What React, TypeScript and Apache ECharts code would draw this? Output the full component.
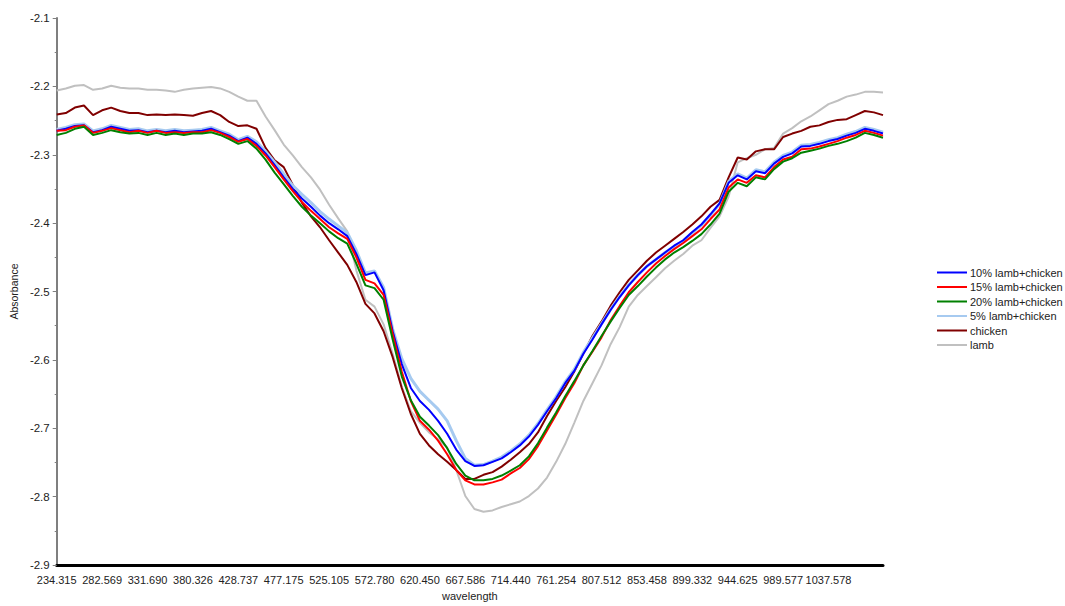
import React, { useEffect, useRef } from "react";
import * as echarts from "echarts";

const tickLabels = [
  "234.315", "282.569", "331.690", "380.326", "428.737", "477.175", "525.105", "572.780", "620.450",
  "667.586", "714.440", "761.254", "807.512", "853.458", "899.332", "944.625", "989.577", "1037.578",
];

const lamb = [
  -2.206, -2.203, -2.199, -2.198, -2.205, -2.203, -2.199, -2.202, -2.203, -2.203,
  -2.205, -2.205, -2.206, -2.208, -2.205, -2.203, -2.202, -2.201, -2.203, -2.208,
  -2.215, -2.221, -2.221, -2.244, -2.264, -2.285, -2.301, -2.318, -2.333, -2.351,
  -2.373, -2.393, -2.412, -2.469, -2.512, -2.522, -2.548, -2.591, -2.639, -2.675,
  -2.692, -2.706, -2.716, -2.728, -2.761, -2.799, -2.818, -2.822, -2.820, -2.815,
  -2.811, -2.807, -2.799, -2.788, -2.772, -2.749, -2.723, -2.692, -2.660, -2.634,
  -2.608, -2.577, -2.552, -2.522, -2.505, -2.492, -2.479, -2.466, -2.455, -2.445,
  -2.433, -2.425, -2.407, -2.390, -2.361, -2.311, -2.305, -2.300, -2.292, -2.290,
  -2.269, -2.261, -2.251, -2.244, -2.235, -2.226, -2.221, -2.215, -2.212, -2.208,
  -2.208, -2.209,
];

const chicken = [
  -2.241, -2.239, -2.231, -2.228, -2.242, -2.235, -2.231, -2.236, -2.239, -2.239,
  -2.242, -2.241, -2.242, -2.241, -2.242, -2.243, -2.239, -2.236, -2.242, -2.252,
  -2.258, -2.257, -2.262, -2.290, -2.308, -2.318, -2.344, -2.370, -2.390, -2.406,
  -2.425, -2.443, -2.461, -2.486, -2.518, -2.532, -2.558, -2.596, -2.641, -2.679,
  -2.708, -2.725, -2.738, -2.749, -2.761, -2.774, -2.774, -2.768, -2.764, -2.756,
  -2.746, -2.735, -2.723, -2.706, -2.682, -2.660, -2.640, -2.617, -2.591, -2.565,
  -2.544, -2.521, -2.501, -2.483, -2.469, -2.455, -2.443, -2.433, -2.423, -2.413,
  -2.402, -2.390, -2.376, -2.366, -2.333, -2.304, -2.307, -2.295, -2.292, -2.292,
  -2.274, -2.269, -2.265, -2.259, -2.257, -2.252, -2.249, -2.248, -2.242, -2.236,
  -2.238, -2.242,
];

const mix10 = [
  -2.265, -2.262, -2.258, -2.257, -2.267, -2.264, -2.259, -2.262, -2.265, -2.264,
  -2.267, -2.265, -2.267, -2.265, -2.267, -2.266, -2.265, -2.262, -2.267, -2.272,
  -2.280, -2.275, -2.284, -2.298, -2.315, -2.333, -2.350, -2.364, -2.376, -2.389,
  -2.400, -2.409, -2.419, -2.445, -2.476, -2.472, -2.498, -2.558, -2.606, -2.641,
  -2.660, -2.673, -2.689, -2.708, -2.731, -2.748, -2.755, -2.754, -2.749, -2.744,
  -2.735, -2.725, -2.712, -2.695, -2.675, -2.656, -2.634, -2.616, -2.591, -2.570,
  -2.548, -2.527, -2.508, -2.491, -2.476, -2.463, -2.453, -2.443, -2.433, -2.425,
  -2.413, -2.402, -2.387, -2.371, -2.341, -2.330, -2.336, -2.324, -2.327, -2.313,
  -2.303, -2.298, -2.288, -2.287, -2.284, -2.280, -2.277, -2.272, -2.268, -2.262,
  -2.265, -2.269,
];

const mix15 = [
  -2.265, -2.264, -2.259, -2.257, -2.268, -2.265, -2.261, -2.264, -2.267, -2.265,
  -2.268, -2.265, -2.268, -2.267, -2.268, -2.267, -2.267, -2.264, -2.268, -2.274,
  -2.281, -2.277, -2.287, -2.301, -2.318, -2.336, -2.353, -2.369, -2.382, -2.394,
  -2.406, -2.415, -2.423, -2.450, -2.483, -2.488, -2.505, -2.562, -2.617, -2.660,
  -2.689, -2.702, -2.718, -2.738, -2.761, -2.776, -2.782, -2.782, -2.779, -2.775,
  -2.766, -2.758, -2.745, -2.726, -2.703, -2.680, -2.656, -2.634, -2.608, -2.588,
  -2.567, -2.542, -2.521, -2.501, -2.486, -2.472, -2.459, -2.448, -2.438, -2.429,
  -2.419, -2.409, -2.394, -2.380, -2.348, -2.336, -2.341, -2.330, -2.333, -2.318,
  -2.307, -2.303, -2.292, -2.291, -2.288, -2.284, -2.280, -2.275, -2.271, -2.265,
  -2.268, -2.272,
];

const mix20 = [
  -2.271, -2.268, -2.262, -2.259, -2.271, -2.268, -2.264, -2.267, -2.269, -2.268,
  -2.271, -2.268, -2.271, -2.269, -2.271, -2.269, -2.269, -2.267, -2.271, -2.277,
  -2.284, -2.280, -2.291, -2.307, -2.326, -2.343, -2.360, -2.376, -2.389, -2.400,
  -2.412, -2.422, -2.430, -2.459, -2.491, -2.495, -2.512, -2.570, -2.624, -2.659,
  -2.683, -2.696, -2.710, -2.729, -2.752, -2.769, -2.776, -2.776, -2.774, -2.769,
  -2.762, -2.754, -2.741, -2.722, -2.699, -2.677, -2.653, -2.631, -2.608, -2.587,
  -2.565, -2.544, -2.524, -2.505, -2.492, -2.478, -2.465, -2.453, -2.443, -2.435,
  -2.426, -2.416, -2.402, -2.386, -2.354, -2.341, -2.346, -2.333, -2.336, -2.321,
  -2.310, -2.305, -2.297, -2.294, -2.291, -2.287, -2.284, -2.280, -2.275, -2.268,
  -2.271, -2.275,
];

const mix5 = [
  -2.263, -2.260, -2.256, -2.255, -2.265, -2.262, -2.257, -2.260, -2.263, -2.262,
  -2.265, -2.263, -2.265, -2.263, -2.265, -2.264, -2.263, -2.260, -2.265, -2.270,
  -2.278, -2.273, -2.281, -2.295, -2.311, -2.328, -2.345, -2.358, -2.370, -2.383,
  -2.394, -2.404, -2.414, -2.440, -2.473, -2.470, -2.494, -2.555, -2.598, -2.627,
  -2.646, -2.659, -2.672, -2.689, -2.718, -2.744, -2.754, -2.753, -2.748, -2.742,
  -2.733, -2.723, -2.710, -2.693, -2.673, -2.654, -2.632, -2.614, -2.589, -2.568,
  -2.547, -2.526, -2.507, -2.490, -2.476, -2.463, -2.453, -2.443, -2.434, -2.426,
  -2.414, -2.403, -2.388, -2.372, -2.339, -2.328, -2.334, -2.322, -2.325, -2.311,
  -2.301, -2.296, -2.286, -2.285, -2.282, -2.278, -2.275, -2.270, -2.266, -2.260,
  -2.263, -2.267,
];

const legendNames = [
  "10% lamb+chicken",
  "15% lamb+chicken",
  "20% lamb+chicken",
  "5% lamb+chicken",
  "chicken",
  "lamb",
];

const FONT = "'Liberation Sans', Arial, sans-serif";

function toPoints(arr: number[]) {
  return arr.map((v, i) => [i, v]);
}

export default function App() {
  const ref = useRef<HTMLDivElement>(null);
  useEffect(() => {
    if (!ref.current) return;
    const chart = echarts.init(ref.current, undefined, { renderer: "svg" });
    const mk = (name: string, data: number[], color: string, width: number) => ({
      name,
      type: "line",
      data: toPoints(data),
      symbol: "none",
      lineStyle: { color, width },
      itemStyle: { color },
    });
    chart.setOption({
      animation: false,
      backgroundColor: "#ffffff",
      textStyle: { fontFamily: FONT },
      grid: { left: 52, right: 182, top: 18, bottom: 31, containLabel: false },
      legend: {
        data: legendNames,
        orient: "vertical",
        left: 932,
        top: 262,
        itemWidth: 30,
        itemHeight: 10,
        itemGap: 3.5,
        icon: "path://M0,4 L30,4 L30,6 L0,6 Z",
        textStyle: { fontSize: 11, color: "#222", fontFamily: FONT, padding: [0, 0, 0, -2] },
      },
      xAxis: {
        type: "value",
        min: 0,
        max: 91,
        interval: 5,
        name: "wavelength",
        nameLocation: "middle",
        nameGap: 23,
        nameTextStyle: { fontSize: 11, color: "#222" },
        axisLine: { show: true, lineStyle: { color: "#000", width: 3 } },
        axisTick: { show: false },
        splitLine: { show: false },
        axisLabel: {
          fontSize: 11,
          color: "#222",
          margin: 9,
          showMaxLabel: false,
          formatter: (v: number) => {
            const k = Math.round(v / 5);
            return tickLabels[k] ?? "";
          },
        },
      },
      yAxis: {
        type: "value",
        min: -2.9,
        max: -2.1,
        interval: 0.1,
        name: "Absorbance",
        nameLocation: "middle",
        nameGap: 33,
        nameTextStyle: { fontSize: 10.5, color: "#222" },
        axisLine: { show: true, onZero: false, lineStyle: { color: "#7f7f7f", width: 2 } },
        axisTick: { show: true, inside: false, length: 4, lineStyle: { color: "#7f7f7f", width: 1 } },
        minorTick: { show: true, splitNumber: 2, length: 2, lineStyle: { color: "#7f7f7f", width: 1 } },
        splitLine: { show: false },
        axisLabel: {
          fontSize: 11.5,
          color: "#222",
          margin: 7,
          formatter: (v: number) => v.toFixed(1),
        },
      },
      series: [
        mk("lamb", lamb, "#c0c0c0", 2),
        mk("chicken", chicken, "#800000", 2),
        mk("5% lamb+chicken", mix5, "#a6caf0", 3),
        mk("10% lamb+chicken", mix10, "#0000ff", 2),
        mk("15% lamb+chicken", mix15, "#ff0000", 2),
        mk("20% lamb+chicken", mix20, "#008000", 2),
      ],
    });
    return () => chart.dispose();
  }, []);
  return (
    <div
      ref={ref}
      style={{ position: "absolute", left: 0, top: 0, width: 1065, height: 606 }}
    />
  );
}
